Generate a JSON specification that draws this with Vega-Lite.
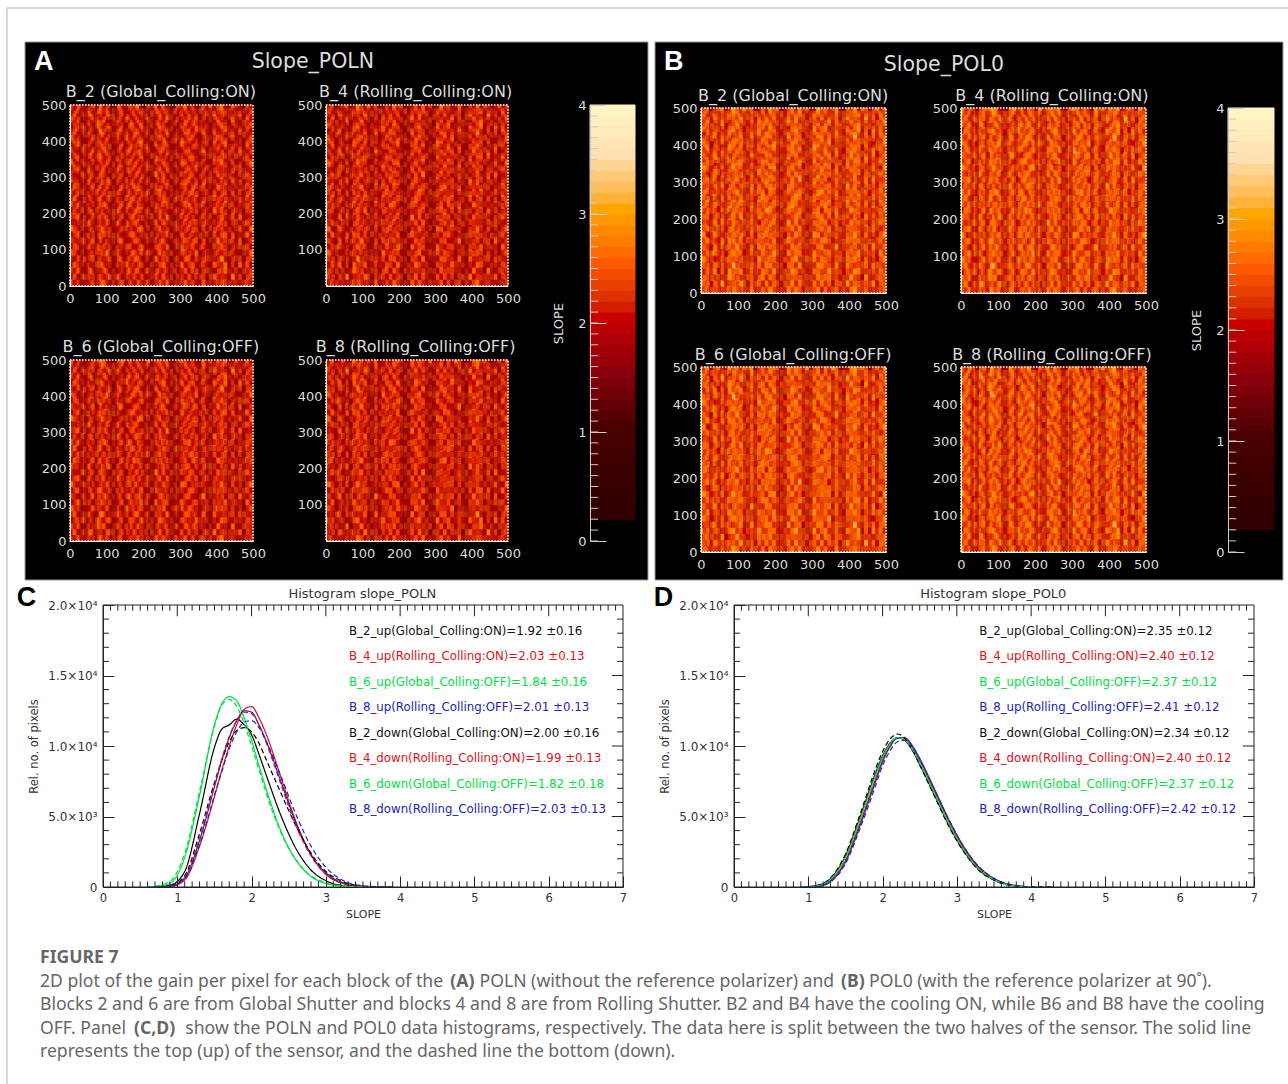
{"$schema":"https://vega.github.io/schema/vega-lite/v6.json","width":1288,"height":1084,"padding":0,"autosize":"none","background":"white","data":{"values":[{}]},
"config":{"view":{"stroke":null},"axis":{"grid":false,"labelFont":"DejaVu Sans","titleFont":"DejaVu Sans","titleFontWeight":"normal","labelOverlap":false,"labelFlush":false,"labelBound":false},"text":{"font":"DejaVu Sans"}},
"resolve":{"scale":{"x":"independent","y":"independent","color":"independent","strokeDash":"independent","fill":"independent","stroke":"independent"},"axis":{"x":"independent","y":"independent"}},
"datasets":{
"cells":[
{"r":1,"v":[23,19,25,21,15,22,24,18,27,20,23,14,16,26,21,19,24,22,28,18,14,23,20,26,19,25,21,17,13,24,22,27,19,23,18,15,24,21,26,20,23,28,19,16,25,22,20,13,24,21]},
{"r":2,"v":[20,26,18,24,17,29,21,23,25,19,27,16,13,22,25,20,18,26,21,24,16,19,27,22,25,18,23,14,18,21,26,20,24,17,22,13,20,27,23,28,19,22,25,15,21,24,26,16,19,23]},
{"r":3,"v":[25,21,27,19,14,20,23,26,22,28,18,13,19,24,20,27,22,17,25,21,15,26,23,19,24,21,28,18,14,26,20,23,25,21,27,16,22,19,24,21,26,20,18,13,27,22,19,17,25,20]},
{"r":4,"v":[18,24,22,26,16,23,19,28,24,21,25,17,15,20,23,18,26,24,19,27,13,22,25,21,28,23,17,15,17,20,24,26,19,22,25,14,21,24,18,23,20,27,22,16,19,25,21,14,23,26]},
{"r":5,"v":[22,27,20,23,13,25,21,19,31,24,18,15,18,26,22,24,19,23,27,20,17,24,18,25,22,20,26,16,13,23,19,25,28,20,24,17,26,22,20,27,21,18,24,15,23,20,28,16,22,19]},
{"r":6,"v":[26,20,24,18,17,21,27,23,22,19,24,14,14,23,19,28,21,25,20,23,15,20,26,23,27,24,19,13,19,25,22,18,23,26,20,13,19,25,23,21,28,24,20,17,26,22,18,15,21,25]},
{"r":7,"v":[19,23,28,21,15,24,18,25,26,22,20,16,17,21,25,19,23,20,24,30,14,22,19,28,20,23,25,17,16,21,27,24,20,19,23,15,22,26,19,24,20,23,27,14,18,24,21,13,26,22]},
{"r":8,"v":[24,21,18,25,14,20,26,22,23,27,19,13,15,25,20,23,27,18,22,24,16,25,21,19,24,26,20,15,14,22,18,23,26,21,19,16,27,20,24,22,25,19,21,16,24,20,26,17,19,23]},
{"r":9,"v":[21,25,23,19,18,27,20,24,28,21,23,17,14,19,26,22,20,24,18,26,13,21,27,23,20,18,24,14,18,26,23,20,22,25,21,14,18,23,27,25,19,22,26,15,20,28,23,14,24,20]},
{"r":10,"v":[27,18,22,24,15,19,25,21,24,20,26,14,18,23,19,25,28,21,24,20,17,23,18,26,22,24,21,16,13,20,25,27,19,23,18,17,24,21,20,26,22,28,19,13,25,21,18,16,23,26]},
{"r":11,"v":[20,24,26,21,13,23,19,27,22,25,18,16,15,27,23,20,22,26,19,23,14,26,24,20,25,19,23,15,16,24,21,19,25,22,26,13,20,27,22,19,24,21,23,17,18,26,24,15,20,22]},
{"r":12,"v":[23,19,21,28,16,24,22,18,26,23,20,13,19,22,24,18,25,20,27,21,16,19,22,29,21,26,18,17,15,22,27,24,20,25,19,15,23,18,25,21,27,20,24,14,22,19,26,13,25,21]},
{"r":13,"v":[25,22,19,23,14,26,20,25,23,18,27,15,14,24,21,26,19,23,20,25,13,24,21,18,23,27,20,14,18,25,19,22,26,20,23,16,21,24,28,22,19,25,18,16,27,23,20,17,21,24]},
{"r":14,"v":[18,26,24,20,17,22,27,19,25,21,24,17,16,20,25,23,21,28,22,19,15,21,26,24,19,22,25,16,13,21,24,26,18,23,27,14,25,20,23,19,26,22,24,15,20,24,18,14,27,22]},
{"r":15,"v":[24,20,23,26,15,19,23,28,21,24,19,14,18,26,22,19,24,20,25,23,14,27,20,25,28,21,19,15,17,23,20,25,22,27,19,17,22,26,21,24,20,18,25,13,23,21,27,16,19,24]},
{"r":16,"v":[22,28,20,19,13,25,21,23,27,20,25,16,15,21,19,27,23,25,18,24,17,22,24,19,26,23,21,17,14,26,24,19,23,21,25,13,20,23,26,28,22,24,19,17,21,25,22,14,26,20]},
{"r":17,"v":[26,19,25,22,18,21,24,20,24,28,21,13,17,23,25,20,26,19,23,21,13,20,25,23,21,27,24,14,16,19,22,28,25,20,24,15,27,19,23,20,25,21,26,14,24,18,23,16,22,25]},
{"r":18,"v":[19,23,21,27,14,24,18,26,22,19,23,15,14,28,20,24,19,22,27,25,16,24,19,26,23,20,22,16,18,25,21,23,19,26,22,16,21,24,20,26,23,27,18,15,19,26,21,13,24,22]},
{"r":19,"v":[23,25,27,20,16,20,26,22,25,24,18,17,19,22,26,18,23,27,21,20,14,23,27,21,24,19,26,13,15,22,27,20,24,21,18,14,25,22,27,19,21,24,23,16,25,20,24,17,21,19]},
{"r":20,"v":[21,18,24,23,13,27,22,19,23,21,26,14,15,25,21,23,20,24,26,19,15,19,22,28,20,25,23,17,13,24,19,26,21,23,27,17,20,25,22,24,18,26,20,13,22,27,19,15,25,23]},
{"r":21,"v":[28,22,19,25,17,23,20,24,26,22,20,16,18,20,24,26,22,19,23,27,13,25,21,24,27,18,20,15,17,26,23,21,27,19,22,13,24,19,26,21,25,23,21,15,20,24,26,14,18,26]},
{"r":22,"v":[20,24,26,18,15,19,25,21,24,27,23,13,14,23,19,22,25,27,20,22,16,20,26,19,23,24,27,14,14,20,25,23,19,24,21,16,22,27,19,25,20,22,26,17,23,19,22,16,27,21]},
{"r":23,"v":[24,21,23,26,14,22,27,18,28,20,19,15,16,27,24,20,18,23,25,21,14,24,22,26,20,26,19,16,18,23,21,27,25,20,26,14,23,20,24,22,27,19,24,13,26,21,25,13,20,23]},
{"r":24,"v":[19,26,20,22,18,25,23,24,21,25,22,16,15,19,22,25,27,21,19,24,17,21,19,23,25,22,24,15,13,27,22,19,23,26,20,15,26,21,18,27,23,25,20,16,19,23,27,15,24,21]},
{"r":25,"v":[25,23,18,24,13,21,19,26,25,19,27,14,19,24,21,23,20,26,22,28,15,26,23,20,28,21,18,17,16,21,24,26,20,22,25,13,19,24,22,20,26,21,23,14,24,20,18,16,22,26]},
{"r":26,"v":[22,20,27,21,16,24,26,19,23,22,24,13,14,26,20,19,24,22,25,20,13,23,20,27,19,24,22,13,15,25,20,23,27,19,23,17,21,26,24,23,19,27,22,15,21,25,24,14,19,24]},
{"r":27,"v":[18,25,22,23,15,20,22,27,26,20,21,17,17,22,25,27,19,23,21,24,16,19,25,22,24,26,20,16,14,23,26,20,22,24,21,14,27,22,19,26,24,20,25,13,23,18,26,17,25,20]},
{"r":28,"v":[24,21,26,19,14,26,18,23,22,28,19,15,15,20,23,21,26,20,27,19,14,25,22,18,23,20,25,14,18,19,23,25,21,27,19,15,22,25,23,21,18,24,27,16,20,26,19,13,23,22]},
{"r":29,"v":[21,27,19,25,17,23,25,20,24,21,26,14,18,25,19,24,22,25,20,23,15,21,24,26,21,27,19,15,13,26,22,18,24,20,26,16,24,19,27,25,23,20,19,14,27,22,23,15,21,26]},
{"r":30,"v":[26,19,23,20,13,21,24,22,27,25,18,16,14,23,27,20,25,18,24,21,17,27,19,23,25,22,26,17,16,22,25,24,19,23,20,13,26,21,24,19,25,22,27,17,19,24,21,16,26,20]}
],
"bar":[{"v":0,"w":0.1},{"v":0.1,"w":0.2},{"v":0.2,"w":0.3},{"v":0.3,"w":0.4},{"v":0.4,"w":0.5},{"v":0.5,"w":0.6},{"v":0.6,"w":0.7},{"v":0.7,"w":0.8},{"v":0.8,"w":0.9},{"v":0.9,"w":1},{"v":1,"w":1.1},{"v":1.1,"w":1.2},{"v":1.2,"w":1.3},{"v":1.3,"w":1.4},{"v":1.4,"w":1.5},{"v":1.5,"w":1.6},{"v":1.6,"w":1.7},{"v":1.7,"w":1.8},{"v":1.8,"w":1.9},{"v":1.9,"w":2},{"v":2,"w":2.1},{"v":2.1,"w":2.2},{"v":2.2,"w":2.3},{"v":2.3,"w":2.4},{"v":2.4,"w":2.5},{"v":2.5,"w":2.6},{"v":2.6,"w":2.7},{"v":2.7,"w":2.8},{"v":2.8,"w":2.9},{"v":2.9,"w":3},{"v":3,"w":3.1},{"v":3.1,"w":3.2},{"v":3.2,"w":3.3},{"v":3.3,"w":3.4},{"v":3.4,"w":3.5},{"v":3.5,"w":3.6},{"v":3.6,"w":3.7},{"v":3.7,"w":3.8},{"v":3.8,"w":3.9},{"v":3.9,"w":4}],
"xt":[{"x":0.1},{"x":0.2},{"x":0.3},{"x":0.4},{"x":0.5},{"x":0.6},{"x":0.7},{"x":0.8},{"x":0.9},{"x":1.1},{"x":1.2},{"x":1.3},{"x":1.4},{"x":1.5},{"x":1.6},{"x":1.7},{"x":1.8},{"x":1.9},{"x":2.1},{"x":2.2},{"x":2.3},{"x":2.4},{"x":2.5},{"x":2.6},{"x":2.7},{"x":2.8},{"x":2.9},{"x":3.1},{"x":3.2},{"x":3.3},{"x":3.4},{"x":3.5},{"x":3.6},{"x":3.7},{"x":3.8},{"x":3.9},{"x":4.1},{"x":4.2},{"x":4.3},{"x":4.4},{"x":4.5},{"x":4.6},{"x":4.7},{"x":4.8},{"x":4.9},{"x":5.1},{"x":5.2},{"x":5.3},{"x":5.4},{"x":5.5},{"x":5.6},{"x":5.7},{"x":5.8},{"x":5.9},{"x":6.1},{"x":6.2},{"x":6.3},{"x":6.4},{"x":6.5},{"x":6.6},{"x":6.7},{"x":6.8},{"x":6.9}],
"xm":[{"x":1},{"x":2},{"x":3},{"x":4},{"x":5},{"x":6}],
"ym":[{"y":5000},{"y":10000},{"y":15000}],
"yt":[{"y":1000},{"y":2000},{"y":3000},{"y":4000},{"y":6000},{"y":7000},{"y":8000},{"y":9000},{"y":11000},{"y":12000},{"y":13000},{"y":14000},{"y":16000},{"y":17000},{"y":18000},{"y":19000}],
"hc":[
{"x":0.6,"u2":0,"u4":0,"u6":10,"u8":0,"d2":0,"d4":0,"d6":20,"d8":0},
{"x":0.7,"u2":0,"u4":0,"u6":30,"u8":0,"d2":0,"d4":0,"d6":60,"d8":0},
{"x":0.9,"u2":120,"u4":30,"u6":250,"u8":50,"d2":80,"d4":60,"d6":400,"d8":50},
{"x":1.1,"u2":1100,"u4":500,"u6":2100,"u8":650,"d2":800,"d4":700,"d6":2400,"d8":600},
{"x":1.3,"u2":5200,"u4":2900,"u6":6500,"u8":3300,"d2":3800,"d4":3500,"d6":6800,"d8":3000},
{"x":1.5,"u2":9900,"u4":6400,"u6":11500,"u8":7100,"d2":7400,"d4":7200,"d6":11400,"d8":6500},
{"x":1.6,"u2":11200,"u4":8300,"u6":13000,"u8":9000,"d2":9000,"d4":9100,"d6":12900,"d8":8200},
{"x":1.7,"u2":11500,"u4":10000,"u6":13500,"u8":10600,"d2":10300,"d4":10700,"d6":13300,"d8":9800},
{"x":1.8,"u2":11900,"u4":11500,"u6":13200,"u8":11800,"d2":11100,"d4":11800,"d6":12800,"d8":11000},
{"x":1.9,"u2":11500,"u4":12600,"u6":12000,"u8":12500,"d2":11300,"d4":12400,"d6":11600,"d8":11700},
{"x":2,"u2":10800,"u4":12800,"u6":10400,"u8":12400,"d2":11000,"d4":12300,"d6":10000,"d8":11800},
{"x":2.1,"u2":9400,"u4":12000,"u6":8600,"u8":11500,"d2":10200,"d4":11500,"d6":8300,"d8":11300},
{"x":2.2,"u2":7900,"u4":10800,"u6":6900,"u8":10300,"d2":9000,"d4":10200,"d6":6600,"d8":10300},
{"x":2.4,"u2":5000,"u4":7700,"u6":3900,"u8":7400,"d2":6600,"d4":7200,"d6":3800,"d8":7800},
{"x":2.6,"u2":2700,"u4":4600,"u6":1900,"u8":4500,"d2":4300,"d4":4300,"d6":1900,"d8":5100},
{"x":2.8,"u2":1200,"u4":2300,"u6":750,"u8":2300,"d2":2400,"d4":2200,"d6":800,"d8":2900},
{"x":3,"u2":450,"u4":900,"u6":250,"u8":1000,"d2":1100,"d4":900,"d6":300,"d8":1400},
{"x":3.2,"u2":120,"u4":300,"u6":70,"u8":350,"d2":450,"d4":300,"d6":90,"d8":550},
{"x":3.5,"u2":10,"u4":30,"u6":0,"u8":40,"d2":60,"d4":30,"d6":0,"d8":90},
{"x":3.9,"u2":0,"u4":0,"u6":0,"u8":0,"d2":0,"d4":0,"d6":0,"d8":0}],
"hd":[
{"x":0.9,"u2":0,"u4":0,"u6":0,"u8":0,"d2":0,"d4":0,"d6":0,"d8":0},
{"x":1.1,"u2":80,"u4":35,"u6":65,"u8":20,"d2":95,"d4":35,"d6":65,"d8":10},
{"x":1.3,"u2":600,"u4":456,"u6":552,"u8":408,"d2":650,"d4":456,"d6":552,"d8":360},
{"x":1.5,"u2":2200,"u4":1870,"u6":2090,"u8":1760,"d2":2330,"d4":1870,"d6":2090,"d8":1650},
{"x":1.7,"u2":5000,"u4":4550,"u6":4850,"u8":4400,"d2":5200,"d4":4550,"d6":4850,"d8":4200},
{"x":1.9,"u2":8000,"u4":7535,"u6":7845,"u8":7380,"d2":8300,"d4":7535,"d6":7845,"d8":7100},
{"x":2,"u2":9300,"u4":8970,"u6":9190,"u8":8860,"d2":9600,"d4":8970,"d6":9190,"d8":8600},
{"x":2.1,"u2":10200,"u4":10005,"u6":10135,"u8":9940,"d2":10500,"d4":10000,"d6":10135,"d8":9650},
{"x":2.2,"u2":10600,"u4":10570,"u6":10590,"u8":10550,"d2":10850,"d4":10580,"d6":10590,"d8":10300},
{"x":2.3,"u2":10400,"u4":10530,"u6":10445,"u8":10580,"d2":10550,"d4":10530,"d6":10445,"d8":10400},
{"x":2.4,"u2":9700,"u4":9955,"u6":9785,"u8":10040,"d2":9750,"d4":9955,"d6":9785,"d8":9950},
{"x":2.5,"u2":8700,"u4":9015,"u6":8805,"u8":9120,"d2":8650,"d4":9015,"d6":8805,"d8":9050},
{"x":2.7,"u2":6500,"u4":6830,"u6":6610,"u8":6940,"d2":6420,"d4":6830,"d6":6610,"d8":6880},
{"x":2.9,"u2":4300,"u4":4600,"u6":4400,"u8":4700,"d2":4220,"d4":4600,"d6":4400,"d8":4700},
{"x":3.1,"u2":2500,"u4":2725,"u6":2575,"u8":2800,"d2":2440,"d4":2725,"d6":2575,"d8":2800},
{"x":3.3,"u2":1200,"u4":1350,"u6":1250,"u8":1400,"d2":1160,"d4":1350,"d6":1250,"d8":1430},
{"x":3.5,"u2":500,"u4":575,"u6":525,"u8":600,"d2":480,"d4":575,"d6":525,"d8":620},
{"x":3.7,"u2":150,"u4":186,"u6":162,"u8":198,"d2":140,"d4":186,"d6":162,"d8":210},
{"x":4,"u2":10,"u4":12,"u6":10,"u8":14,"d2":9,"d4":12,"d6":10,"d8":15},
{"x":4.3,"u2":0,"u4":0,"u6":0,"u8":0,"d2":0,"d4":0,"d6":0,"d8":0}]
},
"layer":[
{"mark":{"type":"rect","fill":null,"stroke":"#cccccc","strokeWidth":1.5},"encoding":{"x":{"datum":0,"axis":null,"scale":{"domain":[0,1],"range":[7,1300],"nice":false,"zero":false}},"x2":{"datum":1},"y":{"datum":0,"axis":null,"scale":{"domain":[0,1],"range":[8,1100],"nice":false,"zero":false}},"y2":{"datum":1}}},

{"layer":[
{"mark":{"type":"rect","fill":"#000000","stroke":"#999999","strokeWidth":1},"encoding":{"x":{"datum":0,"axis":null,"scale":{"domain":[0,1],"range":[25,648],"nice":false,"zero":false}},"x2":{"datum":1},"y":{"datum":0,"axis":null,"scale":{"domain":[0,1],"range":[42,580],"nice":false,"zero":false}},"y2":{"datum":1}}},
{"mark":{"type":"text","text":"A","font":"Liberation Sans","fontWeight":"bold","fontSize":27,"fill":"#ffffff"},"encoding":{"x":{"datum":0.03,"axis":null},"y":{"datum":0.037,"axis":null}}},
{"mark":{"type":"text","text":"Slope_POLN","fontSize":20.5,"fill":"#dddddd"},"encoding":{"x":{"datum":0.462,"axis":null},"y":{"datum":0.037,"axis":null}}},
{"mark":{"type":"text","text":"B_2  (Global_Colling:ON)","fontSize":16,"fill":"#dddddd"},"encoding":{"x":{"datum":0.218,"axis":null},"y":{"datum":0.093,"axis":null}}},
{"mark":{"type":"text","text":"B_4  (Rolling_Colling:ON)","fontSize":16,"fill":"#dddddd"},"encoding":{"x":{"datum":0.627,"axis":null},"y":{"datum":0.093,"axis":null}}},
{"mark":{"type":"text","text":"B_6  (Global_Colling:OFF)","fontSize":16,"fill":"#dddddd"},"encoding":{"x":{"datum":0.218,"axis":null},"y":{"datum":0.567,"axis":null}}},
{"mark":{"type":"text","text":"B_8  (Rolling_Colling:OFF)","fontSize":16,"fill":"#dddddd"},"encoding":{"x":{"datum":0.627,"axis":null},"y":{"datum":0.567,"axis":null}}}
]},
{"layer":[
{"mark":{"type":"rect","fill":"#000000","stroke":"#999999","strokeWidth":1},"encoding":{"x":{"datum":0,"axis":null,"scale":{"domain":[0,1],"range":[655,1283],"nice":false,"zero":false}},"x2":{"datum":1},"y":{"datum":0,"axis":null,"scale":{"domain":[0,1],"range":[42,580],"nice":false,"zero":false}},"y2":{"datum":1}}},
{"mark":{"type":"text","text":"B","font":"Liberation Sans","fontWeight":"bold","fontSize":27,"fill":"#ffffff"},"encoding":{"x":{"datum":0.03,"axis":null},"y":{"datum":0.037,"axis":null}}},
{"mark":{"type":"text","text":"Slope_POL0","fontSize":20.5,"fill":"#dddddd"},"encoding":{"x":{"datum":0.46,"axis":null},"y":{"datum":0.043,"axis":null}}},
{"mark":{"type":"text","text":"B_2  (Global_Colling:ON)","fontSize":16,"fill":"#dddddd"},"encoding":{"x":{"datum":0.22,"axis":null},"y":{"datum":0.1,"axis":null}}},
{"mark":{"type":"text","text":"B_4  (Rolling_Colling:ON)","fontSize":16,"fill":"#dddddd"},"encoding":{"x":{"datum":0.632,"axis":null},"y":{"datum":0.1,"axis":null}}},
{"mark":{"type":"text","text":"B_6  (Global_Colling:OFF)","fontSize":16,"fill":"#dddddd"},"encoding":{"x":{"datum":0.22,"axis":null},"y":{"datum":0.582,"axis":null}}},
{"mark":{"type":"text","text":"B_8  (Rolling_Colling:OFF)","fontSize":16,"fill":"#dddddd"},"encoding":{"x":{"datum":0.632,"axis":null},"y":{"datum":0.582,"axis":null}}}
]},

{"data":{"name":"cells"},"transform":[{"flatten":["v"]},{"window":[{"op":"row_number","as":"c"}],"groupby":["r"]}],"layer":[
{"mark":{"type":"rect"},"encoding":{"x":{"field":"c","type":"ordinal","axis":null,"scale":{"range":[70,253],"padding":0}},"y":{"field":"r","type":"ordinal","axis":null,"scale":{"range":[105,286],"padding":0}},"fill":{"field":"v","type":"quantitative","legend":null,"scale":{"domain":[1,11,21,26,31,36,41],"range":["#000000","#4b0000","#c80000","#ff5a00","#ffa500","#ffe0b0","#ffffff"]}},"stroke":{"field":"v","type":"quantitative","legend":null,"scale":{"domain":[1,11,21,26,31,36,41],"range":["#000000","#4b0000","#c80000","#ff5a00","#ffa500","#ffe0b0","#ffffff"]}}}}
]},
{"data":{"name":"cells"},"transform":[{"flatten":["v"]},{"window":[{"op":"row_number","as":"c"}],"groupby":["r"]}],"mark":{"type":"rect","opacity":0.5},"encoding":{"x":{"field":"c","type":"ordinal","axis":null,"scale":{"range":[253,71.8],"padding":0}},"y":{"field":"r","type":"ordinal","axis":null,"scale":{"range":[286,108],"padding":0}},"fill":{"field":"v","type":"quantitative","legend":null,"scale":{"domain":[1,11,21,26,31,36,41],"range":["#000000","#4b0000","#c80000","#ff5a00","#ffa500","#ffe0b0","#ffffff"]}}}},

{"data":{"name":"cells"},"transform":[{"flatten":["v"]},{"window":[{"op":"row_number","as":"c"}],"groupby":["r"]}],"mark":{"type":"rect"},"encoding":{"x":{"field":"c","type":"ordinal","axis":null,"scale":{"range":[508,326],"padding":0}},"y":{"field":"r","type":"ordinal","axis":null,"scale":{"range":[105,286],"padding":0}},"fill":{"field":"v","type":"quantitative","legend":null,"scale":{"domain":[1,11,21,26,31,36,41],"range":["#000000","#4b0000","#c80000","#ff5a00","#ffa500","#ffe0b0","#ffffff"]}},"stroke":{"field":"v","type":"quantitative","legend":null,"scale":{"domain":[1,11,21,26,31,36,41],"range":["#000000","#4b0000","#c80000","#ff5a00","#ffa500","#ffe0b0","#ffffff"]}}}},
{"data":{"name":"cells"},"transform":[{"flatten":["v"]},{"window":[{"op":"row_number","as":"c"}],"groupby":["r"]}],"mark":{"type":"rect","opacity":0.5},"encoding":{"x":{"field":"c","type":"ordinal","axis":null,"scale":{"range":[327.8,508],"padding":0}},"y":{"field":"r","type":"ordinal","axis":null,"scale":{"range":[286,108],"padding":0}},"fill":{"field":"v","type":"quantitative","legend":null,"scale":{"domain":[1,11,21,26,31,36,41],"range":["#000000","#4b0000","#c80000","#ff5a00","#ffa500","#ffe0b0","#ffffff"]}}}},

{"data":{"name":"cells"},"transform":[{"flatten":["v"]},{"window":[{"op":"row_number","as":"c"}],"groupby":["r"]}],"mark":{"type":"rect"},"encoding":{"x":{"field":"c","type":"ordinal","axis":null,"scale":{"range":[70,253],"padding":0}},"y":{"field":"r","type":"ordinal","axis":null,"scale":{"range":[541,360],"padding":0}},"fill":{"field":"v","type":"quantitative","legend":null,"scale":{"domain":[1,11,21,26,31,36,41],"range":["#000000","#4b0000","#c80000","#ff5a00","#ffa500","#ffe0b0","#ffffff"]}},"stroke":{"field":"v","type":"quantitative","legend":null,"scale":{"domain":[1,11,21,26,31,36,41],"range":["#000000","#4b0000","#c80000","#ff5a00","#ffa500","#ffe0b0","#ffffff"]}}}},
{"data":{"name":"cells"},"transform":[{"flatten":["v"]},{"window":[{"op":"row_number","as":"c"}],"groupby":["r"]}],"mark":{"type":"rect","opacity":0.5},"encoding":{"x":{"field":"c","type":"ordinal","axis":null,"scale":{"range":[253,71.8],"padding":0}},"y":{"field":"r","type":"ordinal","axis":null,"scale":{"range":[363,541],"padding":0}},"fill":{"field":"v","type":"quantitative","legend":null,"scale":{"domain":[1,11,21,26,31,36,41],"range":["#000000","#4b0000","#c80000","#ff5a00","#ffa500","#ffe0b0","#ffffff"]}}}},

{"data":{"name":"cells"},"transform":[{"flatten":["v"]},{"window":[{"op":"row_number","as":"c"}],"groupby":["r"]}],"mark":{"type":"rect"},"encoding":{"x":{"field":"c","type":"ordinal","axis":null,"scale":{"range":[508,326],"padding":0}},"y":{"field":"r","type":"ordinal","axis":null,"scale":{"range":[541,360],"padding":0}},"fill":{"field":"v","type":"quantitative","legend":null,"scale":{"domain":[1,11,21,26,31,36,41],"range":["#000000","#4b0000","#c80000","#ff5a00","#ffa500","#ffe0b0","#ffffff"]}},"stroke":{"field":"v","type":"quantitative","legend":null,"scale":{"domain":[1,11,21,26,31,36,41],"range":["#000000","#4b0000","#c80000","#ff5a00","#ffa500","#ffe0b0","#ffffff"]}}}},
{"data":{"name":"cells"},"transform":[{"flatten":["v"]},{"window":[{"op":"row_number","as":"c"}],"groupby":["r"]}],"mark":{"type":"rect","opacity":0.5},"encoding":{"x":{"field":"c","type":"ordinal","axis":null,"scale":{"range":[327.8,508],"padding":0}},"y":{"field":"r","type":"ordinal","axis":null,"scale":{"range":[363,541],"padding":0}},"fill":{"field":"v","type":"quantitative","legend":null,"scale":{"domain":[1,11,21,26,31,36,41],"range":["#000000","#4b0000","#c80000","#ff5a00","#ffa500","#ffe0b0","#ffffff"]}}}},

{"data":{"name":"cells"},"transform":[{"flatten":["v"]},{"window":[{"op":"row_number","as":"c"}],"groupby":["r"]}],"mark":{"type":"rect"},"encoding":{"x":{"field":"c","type":"ordinal","axis":null,"scale":{"range":[886,701],"padding":0}},"y":{"field":"r","type":"ordinal","axis":null,"scale":{"range":[108,293],"padding":0}},"fill":{"field":"v","type":"quantitative","legend":null,"scale":{"domain":[-2,8,18,23,28,33,38],"range":["#000000","#4b0000","#c80000","#ff5a00","#ffa500","#ffe0b0","#ffffff"]}},"stroke":{"field":"v","type":"quantitative","legend":null,"scale":{"domain":[-2,8,18,23,28,33,38],"range":["#000000","#4b0000","#c80000","#ff5a00","#ffa500","#ffe0b0","#ffffff"]}}}},
{"data":{"name":"cells"},"transform":[{"flatten":["v"]},{"window":[{"op":"row_number","as":"c"}],"groupby":["r"]}],"mark":{"type":"rect","opacity":0.5},"encoding":{"x":{"field":"c","type":"ordinal","axis":null,"scale":{"range":[702.8,886],"padding":0}},"y":{"field":"r","type":"ordinal","axis":null,"scale":{"range":[293,111],"padding":0}},"fill":{"field":"v","type":"quantitative","legend":null,"scale":{"domain":[-2,8,18,23,28,33,38],"range":["#000000","#4b0000","#c80000","#ff5a00","#ffa500","#ffe0b0","#ffffff"]}}}},

{"data":{"name":"cells"},"transform":[{"flatten":["v"]},{"window":[{"op":"row_number","as":"c"}],"groupby":["r"]}],"mark":{"type":"rect"},"encoding":{"x":{"field":"c","type":"ordinal","axis":null,"scale":{"range":[961,1146],"padding":0}},"y":{"field":"r","type":"ordinal","axis":null,"scale":{"range":[293,108],"padding":0}},"fill":{"field":"v","type":"quantitative","legend":null,"scale":{"domain":[-2,8,18,23,28,33,38],"range":["#000000","#4b0000","#c80000","#ff5a00","#ffa500","#ffe0b0","#ffffff"]}},"stroke":{"field":"v","type":"quantitative","legend":null,"scale":{"domain":[-2,8,18,23,28,33,38],"range":["#000000","#4b0000","#c80000","#ff5a00","#ffa500","#ffe0b0","#ffffff"]}}}},
{"data":{"name":"cells"},"transform":[{"flatten":["v"]},{"window":[{"op":"row_number","as":"c"}],"groupby":["r"]}],"mark":{"type":"rect","opacity":0.5},"encoding":{"x":{"field":"c","type":"ordinal","axis":null,"scale":{"range":[1146,962.8],"padding":0}},"y":{"field":"r","type":"ordinal","axis":null,"scale":{"range":[111,293],"padding":0}},"fill":{"field":"v","type":"quantitative","legend":null,"scale":{"domain":[-2,8,18,23,28,33,38],"range":["#000000","#4b0000","#c80000","#ff5a00","#ffa500","#ffe0b0","#ffffff"]}}}},

{"data":{"name":"cells"},"transform":[{"flatten":["v"]},{"window":[{"op":"row_number","as":"c"}],"groupby":["r"]}],"mark":{"type":"rect"},"encoding":{"x":{"field":"c","type":"ordinal","axis":null,"scale":{"range":[886,701],"padding":0}},"y":{"field":"r","type":"ordinal","axis":null,"scale":{"range":[552,367],"padding":0}},"fill":{"field":"v","type":"quantitative","legend":null,"scale":{"domain":[-2,8,18,23,28,33,38],"range":["#000000","#4b0000","#c80000","#ff5a00","#ffa500","#ffe0b0","#ffffff"]}},"stroke":{"field":"v","type":"quantitative","legend":null,"scale":{"domain":[-2,8,18,23,28,33,38],"range":["#000000","#4b0000","#c80000","#ff5a00","#ffa500","#ffe0b0","#ffffff"]}}}},
{"data":{"name":"cells"},"transform":[{"flatten":["v"]},{"window":[{"op":"row_number","as":"c"}],"groupby":["r"]}],"mark":{"type":"rect","opacity":0.5},"encoding":{"x":{"field":"c","type":"ordinal","axis":null,"scale":{"range":[702.8,886],"padding":0}},"y":{"field":"r","type":"ordinal","axis":null,"scale":{"range":[370,552],"padding":0}},"fill":{"field":"v","type":"quantitative","legend":null,"scale":{"domain":[-2,8,18,23,28,33,38],"range":["#000000","#4b0000","#c80000","#ff5a00","#ffa500","#ffe0b0","#ffffff"]}}}},

{"data":{"name":"cells"},"transform":[{"flatten":["v"]},{"window":[{"op":"row_number","as":"c"}],"groupby":["r"]}],"mark":{"type":"rect"},"encoding":{"x":{"field":"c","type":"ordinal","axis":null,"scale":{"range":[961,1146],"padding":0}},"y":{"field":"r","type":"ordinal","axis":null,"scale":{"range":[367,552],"padding":0}},"fill":{"field":"v","type":"quantitative","legend":null,"scale":{"domain":[-2,8,18,23,28,33,38],"range":["#000000","#4b0000","#c80000","#ff5a00","#ffa500","#ffe0b0","#ffffff"]}},"stroke":{"field":"v","type":"quantitative","legend":null,"scale":{"domain":[-2,8,18,23,28,33,38],"range":["#000000","#4b0000","#c80000","#ff5a00","#ffa500","#ffe0b0","#ffffff"]}}}},
{"data":{"name":"cells"},"transform":[{"flatten":["v"]},{"window":[{"op":"row_number","as":"c"}],"groupby":["r"]}],"mark":{"type":"rect","opacity":0.5},"encoding":{"x":{"field":"c","type":"ordinal","axis":null,"scale":{"range":[1146,962.8],"padding":0}},"y":{"field":"r","type":"ordinal","axis":null,"scale":{"range":[552,370],"padding":0}},"fill":{"field":"v","type":"quantitative","legend":null,"scale":{"domain":[-2,8,18,23,28,33,38],"range":["#000000","#4b0000","#c80000","#ff5a00","#ffa500","#ffe0b0","#ffffff"]}}}},

{"mark":{"type":"rect","fill":null,"stroke":"#ffffff","strokeWidth":1.5,"strokeDash":[1.5,1.5]},"encoding":{"x":{"datum":0,"scale":{"domain":[0,500],"range":[70,253],"nice":false,"zero":false},"axis":{"orient":"bottom","offset":-798,"values":[0,100,200,300,400,500],"title":null,"ticks":false,"domainColor":"#ffffff","labelColor":"#dddddd","labelFontSize":13,"labelPadding":6,"zindex":1}},"x2":{"datum":500},"y":{"datum":0,"scale":{"domain":[0,500],"range":[286,105],"nice":false,"zero":false},"axis":{"orient":"left","offset":-70,"values":[0,100,200,300,400,500],"title":null,"ticks":false,"domainColor":"#ffffff","labelColor":"#dddddd","labelFontSize":13,"labelPadding":4,"zindex":1}},"y2":{"datum":500}}},
{"mark":{"type":"rect","fill":null,"stroke":"#ffffff","strokeWidth":1.5,"strokeDash":[1.5,1.5]},"encoding":{"x":{"datum":0,"scale":{"domain":[0,500],"range":[326,508],"nice":false,"zero":false},"axis":{"orient":"bottom","offset":-798,"values":[0,100,200,300,400,500],"title":null,"ticks":false,"domainColor":"#ffffff","labelColor":"#dddddd","labelFontSize":13,"labelPadding":6,"zindex":1}},"x2":{"datum":500},"y":{"datum":0,"scale":{"domain":[0,500],"range":[286,105],"nice":false,"zero":false},"axis":{"orient":"left","offset":-326,"values":[100,200,300,400,500],"title":null,"ticks":false,"domainColor":"#ffffff","labelColor":"#dddddd","labelFontSize":13,"labelPadding":4,"zindex":1}},"y2":{"datum":500}}},
{"mark":{"type":"rect","fill":null,"stroke":"#ffffff","strokeWidth":1.5,"strokeDash":[1.5,1.5]},"encoding":{"x":{"datum":0,"scale":{"domain":[0,500],"range":[70,253],"nice":false,"zero":false},"axis":{"orient":"bottom","offset":-543,"values":[0,100,200,300,400,500],"title":null,"ticks":false,"domainColor":"#ffffff","labelColor":"#dddddd","labelFontSize":13,"labelPadding":6,"zindex":1}},"x2":{"datum":500},"y":{"datum":0,"scale":{"domain":[0,500],"range":[541,360],"nice":false,"zero":false},"axis":{"orient":"left","offset":-70,"values":[0,100,200,300,400,500],"title":null,"ticks":false,"domainColor":"#ffffff","labelColor":"#dddddd","labelFontSize":13,"labelPadding":4,"zindex":1}},"y2":{"datum":500}}},
{"mark":{"type":"rect","fill":null,"stroke":"#ffffff","strokeWidth":1.5,"strokeDash":[1.5,1.5]},"encoding":{"x":{"datum":0,"scale":{"domain":[0,500],"range":[326,508],"nice":false,"zero":false},"axis":{"orient":"bottom","offset":-543,"values":[0,100,200,300,400,500],"title":null,"ticks":false,"domainColor":"#ffffff","labelColor":"#dddddd","labelFontSize":13,"labelPadding":6,"zindex":1}},"x2":{"datum":500},"y":{"datum":0,"scale":{"domain":[0,500],"range":[541,360],"nice":false,"zero":false},"axis":{"orient":"left","offset":-326,"values":[100,200,300,400,500],"title":null,"ticks":false,"domainColor":"#ffffff","labelColor":"#dddddd","labelFontSize":13,"labelPadding":4,"zindex":1}},"y2":{"datum":500}}},
{"mark":{"type":"rect","fill":null,"stroke":"#ffffff","strokeWidth":1.5,"strokeDash":[1.5,1.5]},"encoding":{"x":{"datum":0,"scale":{"domain":[0,500],"range":[701,886],"nice":false,"zero":false},"axis":{"orient":"bottom","offset":-791,"values":[0,100,200,300,400,500],"title":null,"ticks":false,"domainColor":"#ffffff","labelColor":"#dddddd","labelFontSize":13,"labelPadding":6,"zindex":1}},"x2":{"datum":500},"y":{"datum":0,"scale":{"domain":[0,500],"range":[293,108],"nice":false,"zero":false},"axis":{"orient":"left","offset":-701,"values":[0,100,200,300,400,500],"title":null,"ticks":false,"domainColor":"#ffffff","labelColor":"#dddddd","labelFontSize":13,"labelPadding":4,"zindex":1}},"y2":{"datum":500}}},
{"mark":{"type":"rect","fill":null,"stroke":"#ffffff","strokeWidth":1.5,"strokeDash":[1.5,1.5]},"encoding":{"x":{"datum":0,"scale":{"domain":[0,500],"range":[961,1146],"nice":false,"zero":false},"axis":{"orient":"bottom","offset":-791,"values":[0,100,200,300,400,500],"title":null,"ticks":false,"domainColor":"#ffffff","labelColor":"#dddddd","labelFontSize":13,"labelPadding":6,"zindex":1}},"x2":{"datum":500},"y":{"datum":0,"scale":{"domain":[0,500],"range":[293,108],"nice":false,"zero":false},"axis":{"orient":"left","offset":-961,"values":[100,200,300,400,500],"title":null,"ticks":false,"domainColor":"#ffffff","labelColor":"#dddddd","labelFontSize":13,"labelPadding":4,"zindex":1}},"y2":{"datum":500}}},
{"mark":{"type":"rect","fill":null,"stroke":"#ffffff","strokeWidth":1.5,"strokeDash":[1.5,1.5]},"encoding":{"x":{"datum":0,"scale":{"domain":[0,500],"range":[701,886],"nice":false,"zero":false},"axis":{"orient":"bottom","offset":-532,"values":[0,100,200,300,400,500],"title":null,"ticks":false,"domainColor":"#ffffff","labelColor":"#dddddd","labelFontSize":13,"labelPadding":6,"zindex":1}},"x2":{"datum":500},"y":{"datum":0,"scale":{"domain":[0,500],"range":[552,367],"nice":false,"zero":false},"axis":{"orient":"left","offset":-701,"values":[0,100,200,300,400,500],"title":null,"ticks":false,"domainColor":"#ffffff","labelColor":"#dddddd","labelFontSize":13,"labelPadding":4,"zindex":1}},"y2":{"datum":500}}},
{"mark":{"type":"rect","fill":null,"stroke":"#ffffff","strokeWidth":1.5,"strokeDash":[1.5,1.5]},"encoding":{"x":{"datum":0,"scale":{"domain":[0,500],"range":[961,1146],"nice":false,"zero":false},"axis":{"orient":"bottom","offset":-532,"values":[0,100,200,300,400,500],"title":null,"ticks":false,"domainColor":"#ffffff","labelColor":"#dddddd","labelFontSize":13,"labelPadding":6,"zindex":1}},"x2":{"datum":500},"y":{"datum":0,"scale":{"domain":[0,500],"range":[552,367],"nice":false,"zero":false},"axis":{"orient":"left","offset":-961,"values":[100,200,300,400,500],"title":null,"ticks":false,"domainColor":"#ffffff","labelColor":"#dddddd","labelFontSize":13,"labelPadding":4,"zindex":1}},"y2":{"datum":500}}},

{"data":{"name":"bar"},"encoding":{"y":{"field":"v","type":"quantitative","scale":{"domain":[0,4],"range":[541,105],"nice":false,"zero":false},"axis":{"orient":"left","offset":-590,"values":[0,1,2,3,4],"title":"SLOPE","titleColor":"#dddddd","titleFontSize":13,"titlePadding":12,"tickSize":-16,"tickColor":"#cccccc","domainColor":"#cccccc","labelColor":"#dddddd","labelFontSize":13,"labelPadding":20,"zindex":1}}},"layer":[
{"mark":{"type":"rect"},"encoding":{"x":{"datum":0,"axis":null,"scale":{"domain":[0,1],"range":[590,635],"nice":false,"zero":false}},"x2":{"datum":1},"y2":{"field":"w"},"fill":{"field":"v","type":"quantitative","legend":null,"scale":{"domain":[0,0.2,1,2,2.5,3,3.5,4],"range":["#000000","#000000","#4b0000","#c80000","#ff5a00","#ffa500","#ffe0b0","#ffffff"]}},"stroke":{"field":"v","type":"quantitative","legend":null,"scale":{"domain":[0,0.2,1,2,2.5,3,3.5,4],"range":["#000000","#000000","#4b0000","#c80000","#ff5a00","#ffa500","#ffe0b0","#ffffff"]}}}},
{"mark":{"type":"rule","stroke":"#cccccc"},"encoding":{"x":{"datum":0,"axis":null},"x2":{"datum":0.18}}}
]},
{"data":{"name":"bar"},"encoding":{"y":{"field":"v","type":"quantitative","scale":{"domain":[0,4],"range":[552,108],"nice":false,"zero":false},"axis":{"orient":"left","offset":-1228,"values":[0,1,2,3,4],"title":"SLOPE","titleColor":"#dddddd","titleFontSize":13,"titlePadding":12,"tickSize":-16,"tickColor":"#cccccc","domainColor":"#cccccc","labelColor":"#dddddd","labelFontSize":13,"labelPadding":20,"zindex":1}}},"layer":[
{"mark":{"type":"rect"},"encoding":{"x":{"datum":0,"axis":null,"scale":{"domain":[0,1],"range":[1228,1274],"nice":false,"zero":false}},"x2":{"datum":1},"y2":{"field":"w"},"fill":{"field":"v","type":"quantitative","legend":null,"scale":{"domain":[0,0.2,1,2,2.5,3,3.5,4],"range":["#000000","#000000","#4b0000","#c80000","#ff5a00","#ffa500","#ffe0b0","#ffffff"]}},"stroke":{"field":"v","type":"quantitative","legend":null,"scale":{"domain":[0,0.2,1,2,2.5,3,3.5,4],"range":["#000000","#000000","#4b0000","#c80000","#ff5a00","#ffa500","#ffe0b0","#ffffff"]}}}},
{"mark":{"type":"rule","stroke":"#cccccc"},"encoding":{"x":{"datum":0,"axis":null},"x2":{"datum":0.18}}}
]},

{"mark":{"type":"rect","fill":null,"stroke":"#222222"},"encoding":{"x":{"datum":0,"scale":{"domain":[0,7],"range":[103,623],"nice":false,"zero":false},"axis":{"orient":"bottom","offset":-197,"values":[0,1,2,3,4,5,6,7],"title":"SLOPE","titleFontSize":11,"titleColor":"#333333","titlePadding":5,"tickSize":-11,"tickColor":"#222222","domainColor":"#222222","labelColor":"#333333","labelFontSize":11.5,"labelPadding":16,"zindex":1}},"x2":{"datum":7},"y":{"datum":0,"scale":{"domain":[0,20000],"range":[887,605],"nice":false,"zero":false},"axis":{"orient":"left","offset":-103,"values":[0,5000,10000,15000,20000],"labelExpr":"datum.value===0?'0':datum.value<10000?'5.0×10³':format(datum.value/10000,'.1f')+'×10⁴'","title":"Rel. no. of pixels","titleFontSize":11.5,"titleColor":"#333333","titlePadding":8,"tickSize":-11,"tickColor":"#222222","domainColor":"#222222","labelColor":"#333333","labelFontSize":12,"labelPadding":17,"zindex":1}},"y2":{"datum":20000}}},
{"mark":{"type":"rect","fill":null,"stroke":"#222222"},"encoding":{"x":{"datum":0,"scale":{"domain":[0,7],"range":[734,1254],"nice":false,"zero":false},"axis":{"orient":"bottom","offset":-197,"values":[0,1,2,3,4,5,6,7],"title":"SLOPE","titleFontSize":11,"titleColor":"#333333","titlePadding":5,"tickSize":-11,"tickColor":"#222222","domainColor":"#222222","labelColor":"#333333","labelFontSize":11.5,"labelPadding":16,"zindex":1}},"x2":{"datum":7},"y":{"datum":0,"scale":{"domain":[0,20000],"range":[887,605],"nice":false,"zero":false},"axis":{"orient":"left","offset":-734,"values":[0,5000,10000,15000,20000],"labelExpr":"datum.value===0?'0':datum.value<10000?'5.0×10³':format(datum.value/10000,'.1f')+'×10⁴'","title":"Rel. no. of pixels","titleFontSize":11.5,"titleColor":"#333333","titlePadding":8,"tickSize":-11,"tickColor":"#222222","domainColor":"#222222","labelColor":"#333333","labelFontSize":12,"labelPadding":17,"zindex":1}},"y2":{"datum":20000}}},

{"layer":[
{"data":{"name":"hc"},"transform":[{"fold":["u2","u4","u6","u8","d2","d4","d6","d8"],"as":["s","y"]}],"mark":{"type":"line","strokeWidth":1.2,"interpolate":"monotone"},"encoding":{"x":{"field":"x","type":"quantitative","axis":null,"scale":{"domain":[0,7],"range":[103,623],"nice":false,"zero":false}},"y":{"field":"y","type":"quantitative","axis":null,"scale":{"domain":[0,20000],"range":[887,605],"nice":false,"zero":false}},"color":{"field":"s","type":"nominal","legend":null,"scale":{"domain":["u2","u4","u6","u8","d2","d4","d6","d8"],"range":["#000000","#e0101a","#00dd44","#2222bb","#000000","#e0101a","#00dd44","#2222bb"]}},"strokeDash":{"field":"s","type":"nominal","legend":null,"scale":{"domain":["u2","u4","u6","u8","d2","d4","d6","d8"],"range":[[1,0],[1,0],[1,0],[1,0],[5,3],[5,3],[5,3],[5,3]]}}}},
{"data":{"name":"xt"},"mark":{"type":"rule","stroke":"#222222"},"encoding":{"x":{"field":"x","type":"quantitative","axis":null},"y":{"datum":0,"axis":null},"y2":{"datum":400}}},
{"data":{"name":"xt"},"mark":{"type":"rule","stroke":"#222222"},"encoding":{"x":{"field":"x","type":"quantitative","axis":null},"y":{"datum":20000,"axis":null},"y2":{"datum":19600}}},
{"data":{"name":"xm"},"mark":{"type":"rule","stroke":"#222222"},"encoding":{"x":{"field":"x","type":"quantitative","axis":null},"y":{"datum":20000,"axis":null},"y2":{"datum":19200}}},
{"data":{"name":"yt"},"mark":{"type":"rule","stroke":"#222222"},"encoding":{"y":{"field":"y","type":"quantitative","axis":null},"x":{"datum":0,"axis":null},"x2":{"datum":0.08}}},
{"data":{"name":"yt"},"mark":{"type":"rule","stroke":"#222222"},"encoding":{"y":{"field":"y","type":"quantitative","axis":null},"x":{"datum":7,"axis":null},"x2":{"datum":6.92}}},
{"data":{"name":"ym"},"mark":{"type":"rule","stroke":"#222222"},"encoding":{"y":{"field":"y","type":"quantitative","axis":null},"x":{"datum":7,"axis":null},"x2":{"datum":6.85}}},
{"mark":{"type":"text","text":"Histogram slope_POLN","fontSize":13,"fill":"#333333"},"encoding":{"x":{"datum":3.49,"axis":null},"y":{"datum":20800,"axis":null}}},
{"mark":{"type":"text","text":"C","font":"Liberation Sans","fontWeight":"bold","fontSize":27,"fill":"#000000"},"encoding":{"x":{"datum":-1.03,"axis":null},"y":{"datum":20500,"axis":null}}}
]},
{"layer":[
{"data":{"name":"hd"},"transform":[{"fold":["u2","u4","u6","u8","d2","d4","d6","d8"],"as":["s","y"]}],"mark":{"type":"line","strokeWidth":1.2,"interpolate":"monotone"},"encoding":{"x":{"field":"x","type":"quantitative","axis":null,"scale":{"domain":[0,7],"range":[734,1254],"nice":false,"zero":false}},"y":{"field":"y","type":"quantitative","axis":null,"scale":{"domain":[0,20000],"range":[887,605],"nice":false,"zero":false}},"color":{"field":"s","type":"nominal","legend":null,"scale":{"domain":["u2","u4","u6","u8","d2","d4","d6","d8"],"range":["#000000","#e0101a","#00dd44","#2222bb","#000000","#e0101a","#00dd44","#2222bb"]}},"strokeDash":{"field":"s","type":"nominal","legend":null,"scale":{"domain":["u2","u4","u6","u8","d2","d4","d6","d8"],"range":[[1,0],[1,0],[1,0],[1,0],[5,3],[5,3],[5,3],[5,3]]}}}},
{"data":{"name":"xt"},"mark":{"type":"rule","stroke":"#222222"},"encoding":{"x":{"field":"x","type":"quantitative","axis":null},"y":{"datum":0,"axis":null},"y2":{"datum":400}}},
{"data":{"name":"xt"},"mark":{"type":"rule","stroke":"#222222"},"encoding":{"x":{"field":"x","type":"quantitative","axis":null},"y":{"datum":20000,"axis":null},"y2":{"datum":19600}}},
{"data":{"name":"xm"},"mark":{"type":"rule","stroke":"#222222"},"encoding":{"x":{"field":"x","type":"quantitative","axis":null},"y":{"datum":20000,"axis":null},"y2":{"datum":19200}}},
{"data":{"name":"yt"},"mark":{"type":"rule","stroke":"#222222"},"encoding":{"y":{"field":"y","type":"quantitative","axis":null},"x":{"datum":0,"axis":null},"x2":{"datum":0.08}}},
{"data":{"name":"yt"},"mark":{"type":"rule","stroke":"#222222"},"encoding":{"y":{"field":"y","type":"quantitative","axis":null},"x":{"datum":7,"axis":null},"x2":{"datum":6.92}}},
{"data":{"name":"ym"},"mark":{"type":"rule","stroke":"#222222"},"encoding":{"y":{"field":"y","type":"quantitative","axis":null},"x":{"datum":7,"axis":null},"x2":{"datum":6.85}}},
{"mark":{"type":"text","text":"Histogram slope_POL0","fontSize":13,"fill":"#333333"},"encoding":{"x":{"datum":3.49,"axis":null},"y":{"datum":20800,"axis":null}}},
{"mark":{"type":"text","text":"D","font":"Liberation Sans","fontWeight":"bold","fontSize":27,"fill":"#000000"},"encoding":{"x":{"datum":-0.95,"axis":null},"y":{"datum":20500,"axis":null}}}
]},

{"data":{"values":[
{"label":"B_2_up(Global_Colling:ON)=1.92  ±0.16","block":"B_2","rank":1},
{"label":"B_4_up(Rolling_Colling:ON)=2.03  ±0.13","block":"B_4","rank":2},
{"label":"B_6_up(Global_Colling:OFF)=1.84  ±0.16","block":"B_6","rank":3},
{"label":"B_8_up(Rolling_Colling:OFF)=2.01  ±0.13","block":"B_8","rank":4},
{"label":"B_2_down(Global_Colling:ON)=2.00  ±0.16","block":"B_2","rank":5},
{"label":"B_4_down(Rolling_Colling:ON)=1.99  ±0.13","block":"B_4","rank":6},
{"label":"B_6_down(Global_Colling:OFF)=1.82  ±0.18","block":"B_6","rank":7},
{"label":"B_8_down(Rolling_Colling:OFF)=2.03  ±0.13","block":"B_8","rank":8}]},
"mark":{"type":"text","align":"left","fontSize":11.8},"encoding":{"x":{"datum":3.31,"axis":null,"scale":{"domain":[0,7],"range":[103,623],"nice":false,"zero":false}},"y":{"field":"rank","type":"quantitative","axis":null,"scale":{"domain":[1,8],"range":[631,809],"nice":false,"zero":false}},"text":{"field":"label"},"fill":{"field":"block","type":"nominal","legend":null,"scale":{"domain":["B_2","B_4","B_6","B_8"],"range":["#111111","#e0101a","#00dd44","#2222bb"]}}}},
{"data":{"values":[
{"label":"B_2_up(Global_Colling:ON)=2.35  ±0.12","block":"B_2","rank":1},
{"label":"B_4_up(Rolling_Colling:ON)=2.40  ±0.12","block":"B_4","rank":2},
{"label":"B_6_up(Global_Colling:OFF)=2.37  ±0.12","block":"B_6","rank":3},
{"label":"B_8_up(Rolling_Colling:OFF)=2.41  ±0.12","block":"B_8","rank":4},
{"label":"B_2_down(Global_Colling:ON)=2.34  ±0.12","block":"B_2","rank":5},
{"label":"B_4_down(Rolling_Colling:ON)=2.40  ±0.12","block":"B_4","rank":6},
{"label":"B_6_down(Global_Colling:OFF)=2.37  ±0.12","block":"B_6","rank":7},
{"label":"B_8_down(Rolling_Colling:OFF)=2.42  ±0.12","block":"B_8","rank":8}]},
"mark":{"type":"text","align":"left","fontSize":11.8},"encoding":{"x":{"datum":3.3,"axis":null,"scale":{"domain":[0,7],"range":[734,1254],"nice":false,"zero":false}},"y":{"field":"rank","type":"quantitative","axis":null,"scale":{"domain":[1,8],"range":[631,809],"nice":false,"zero":false}},"text":{"field":"label"},"fill":{"field":"block","type":"nominal","legend":null,"scale":{"domain":["B_2","B_4","B_6","B_8"],"range":["#111111","#e0101a","#00dd44","#2222bb"]}}}},

{"layer":[
{"data":{"values":[{"t":"FIGURE 7","line":0}]},"mark":{"type":"text","align":"left","font":"Noto Sans","fontSize":17.6,"fontWeight":"bold","fill":"#666666"},"encoding":{"text":{"field":"t"},"y":{"field":"line","type":"quantitative","axis":null,"scale":{"domain":[0,4],"range":[958,1052],"nice":false,"zero":false}},"x":{"datum":0,"axis":null,"scale":{"domain":[0,1],"range":[40,1261],"nice":false,"zero":false}}}},
{"data":{"values":[{"t":"2D plot of the gain per pixel for each block of the","line":1},{"t":"Blocks 2 and 6 are from Global Shutter and blocks 4 and 8 are from Rolling Shutter. B2 and B4 have the cooling ON, while B6 and B8 have the cooling","line":2},{"t":"OFF. Panel","line":3},{"t":"represents the top (up) of the sensor, and the dashed line the bottom (down).","line":4}]},"mark":{"type":"text","align":"left","font":"Noto Sans","fontSize":17.6,"fill":"#666666"},"encoding":{"text":{"field":"t"},"y":{"field":"line","type":"quantitative","axis":null},"x":{"datum":0,"axis":null}}},
{"data":{"values":[{"t":"(A)","line":1}]},"mark":{"type":"text","align":"left","font":"Noto Sans","fontSize":17.6,"fontWeight":"bold","fill":"#666666"},"encoding":{"text":{"field":"t"},"y":{"field":"line","type":"quantitative","axis":null},"x":{"datum":0.336,"axis":null}}},
{"data":{"values":[{"t":"POLN (without the reference polarizer) and","line":1}]},"mark":{"type":"text","align":"left","font":"Noto Sans","fontSize":17.6,"fill":"#666666"},"encoding":{"text":{"field":"t"},"y":{"field":"line","type":"quantitative","axis":null},"x":{"datum":0.36,"axis":null}}},
{"data":{"values":[{"t":"(B)","line":1}]},"mark":{"type":"text","align":"left","font":"Noto Sans","fontSize":17.6,"fontWeight":"bold","fill":"#666666"},"encoding":{"text":{"field":"t"},"y":{"field":"line","type":"quantitative","axis":null},"x":{"datum":0.656,"axis":null}}},
{"data":{"values":[{"t":"POL0 (with the reference polarizer at 90˚).","line":1}]},"mark":{"type":"text","align":"left","font":"Noto Sans","fontSize":17.6,"fill":"#666666"},"encoding":{"text":{"field":"t"},"y":{"field":"line","type":"quantitative","axis":null},"x":{"datum":0.679,"axis":null}}},
{"data":{"values":[{"t":"(C,D)","line":3}]},"mark":{"type":"text","align":"left","font":"Noto Sans","fontSize":17.6,"fontWeight":"bold","fill":"#666666"},"encoding":{"text":{"field":"t"},"y":{"field":"line","type":"quantitative","axis":null},"x":{"datum":0.077,"axis":null}}},
{"data":{"values":[{"t":"show the POLN and POL0 data histograms, respectively. The data here is split between the two halves of the sensor. The solid line","line":3}]},"mark":{"type":"text","align":"left","font":"Noto Sans","fontSize":17.6,"fill":"#666666"},"encoding":{"text":{"field":"t"},"y":{"field":"line","type":"quantitative","axis":null},"x":{"datum":0.119,"axis":null}}}
]}
]}
